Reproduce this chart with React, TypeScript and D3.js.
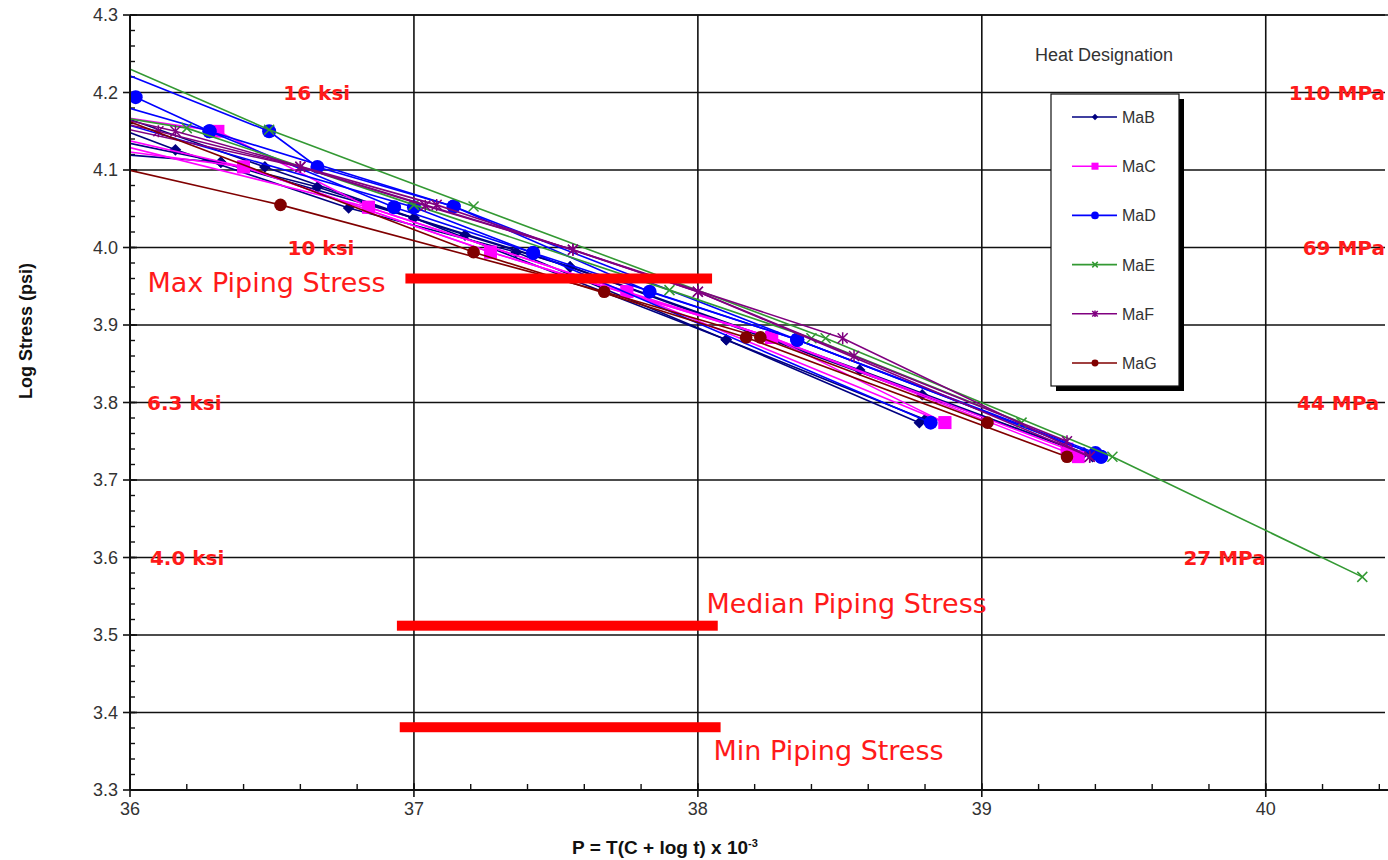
import React from "react";
import * as d3 from "d3";

// Larson-Miller data, [P x 10^-3, log stress] per test run (first point sits left of the axis)
const maB = [
  [[35.9, 4.162], [36.16, 4.126], [36.77, 4.051], [37.36, 3.994], [38.1, 3.881], [38.78, 3.774]],
  [[35.9, 4.122], [36.32, 4.11], [36.66, 4.078], [37.18, 4.016], [37.55, 3.975], [38.57, 3.842], [39.39, 3.73]],
  [[35.9, 4.178], [36.475, 4.104], [37.0, 4.038], [37.55, 3.975], [38.79, 3.81], [39.36, 3.735]],
  [[35.9, 4.142], [36.32, 4.11], [37.0, 4.038], [38.1, 3.881], [38.8, 3.778]],
];
const maC = [
  [[35.9, 4.172], [36.31, 4.15], [36.84, 4.052], [37.75, 3.943], [38.87, 3.774]],
  [[35.9, 4.146], [36.4, 4.104], [37.27, 3.994], [38.26, 3.884], [39.34, 3.73]],
  [[35.9, 4.138], [36.84, 4.052], [37.75, 3.943], [38.26, 3.884], [39.3, 3.74]],
  [[35.9, 4.128], [36.4, 4.104], [37.27, 3.994], [38.26, 3.884], [38.87, 3.774]],
];
const maD = [
  [[35.9, 4.21], [36.02, 4.194], [36.28, 4.15], [36.93, 4.052], [37.42, 3.993], [38.82, 3.774]],
  [[35.9, 4.236], [36.49, 4.15], [36.66, 4.104], [37.14, 4.053], [37.83, 3.943], [38.35, 3.881], [39.42, 3.73]],
  [[35.9, 4.168], [37.0, 4.052], [37.42, 3.993], [38.35, 3.881], [39.4, 3.735]],
  [[35.9, 4.19], [36.28, 4.15], [37.14, 4.053], [38.35, 3.881], [39.42, 3.73]],
];
const maE = [
  [[35.9, 4.246], [36.49, 4.152], [37.21, 4.053], [38.45, 3.883], [39.46, 3.73], [40.34, 3.575]],
  [[35.9, 4.172], [36.2, 4.154], [37.0, 4.055], [37.9, 3.945], [38.4, 3.883], [39.14, 3.774]],
];
const maF = [
  [[35.9, 4.166], [36.1, 4.15], [36.6, 4.104], [37.04, 4.054], [37.56, 3.997], [38.51, 3.883], [39.38, 3.73]],
  [[35.9, 4.172], [36.16, 4.15], [37.08, 4.055], [38.0, 3.943], [38.55, 3.86], [39.3, 3.75]],
  [[35.9, 4.16], [36.6, 4.104], [37.56, 3.997], [38.0, 3.943], [39.38, 3.73]],
];
const maG = [
  [[35.9, 4.108], [36.53, 4.055], [37.67, 3.943], [38.22, 3.884], [39.02, 3.774]],
  [[35.9, 4.176], [37.21, 3.994], [38.17, 3.884], [39.3, 3.73]],
];

const heats = [
  { name: "MaB", color: "#000080", marker: "diamond", runs: maB },
  { name: "MaC", color: "#ff00ff", marker: "square", runs: maC },
  { name: "MaD", color: "#0000ff", marker: "circle", runs: maD },
  { name: "MaE", color: "#339933", marker: "x", runs: maE },
  { name: "MaF", color: "#800080", marker: "star", runs: maF },
  { name: "MaG", color: "#800000", marker: "dot", runs: maG },
];

const xTicks = [36, 37, 38, 39, 40];
const yTicks = [3.3, 3.4, 3.5, 3.6, 3.7, 3.8, 3.9, 4.0, 4.1, 4.2, 4.3];

// stress annotations: [text, P, log stress]
const ksiLabels = [
  ["16 ksi", 36.54, 4.2],
  ["10 ksi", 36.555, 4.0],
  ["6.3 ksi", 36.06, 3.8],
  ["4.0 ksi", 36.07, 3.6],
];
const mpaLabels = [
  ["110 MPa", 40.42, 4.2],
  ["69 MPa", 40.42, 4.0],
  ["44 MPa", 40.4, 3.8],
  ["27 MPa", 40.0, 3.6],
];
// piping stress bands: [label, P start, P end, log stress]
const pipingBars = [
  ["Max Piping Stress", 36.97, 38.05, 3.96],
  ["Median Piping Stress", 36.94, 38.07, 3.512],
  ["Min Piping Stress", 36.95, 38.08, 3.381],
];
const pipingLabels = [
  ["Max Piping Stress", 36.9, 3.955, "end"],
  ["Median Piping Stress", 38.03, 3.541, "start"],
  ["Min Piping Stress", 38.055, 3.352, "start"],
];

const left = 130;
const right = 1385;
const top = 15;
const bottom = 790;

const x = d3.scaleLinear().domain([36, 40.42]).range([left, right]);
const y = d3.scaleLinear().domain([3.3, 4.3]).range([bottom, top]);

function Marker({ type, color, cx, cy, s = 1 }) {
  if (type === "circle" || type === "dot") {
    const r = (type === "circle" ? 7 : 6.3) * s;
    return <circle cx={cx} cy={cy} r={r} fill={color} />;
  }
  if (type === "square") {
    const h = 6.4 * s;
    return <rect x={cx - h} y={cy - h} width={2 * h} height={2 * h} fill={color} />;
  }
  if (type === "diamond") {
    const r = 5.8 * s;
    return <path d={`M${cx},${cy - r}L${cx + r},${cy}L${cx},${cy + r}L${cx - r},${cy}Z`} fill={color} />;
  }
  const r = 5 * s;
  let d = `M${cx - r},${cy - r}L${cx + r},${cy + r}M${cx - r},${cy + r}L${cx + r},${cy - r}`;
  if (type === "star") d += `M${cx},${cy - r * 1.2}L${cx},${cy + r * 1.2}`;
  return <path d={d} stroke={color} strokeWidth={1.5} fill="none" />;
}

export default function App() {
  const line = d3
    .line()
    .x((d) => x(d[0]))
    .y((d) => y(d[1]));

  const minorY = d3.range(3.3, 4.3001, 0.02);
  const minorX = d3.range(36, 40.42, 0.2);
  const legendRows = d3.scalePoint().domain(heats.map((h) => h.name)).range([117, 363]);

  return (
    <svg
      width={1388}
      height={860}
      style={{ position: "absolute", left: 0, top: 0, background: "#fff" }}
      fontFamily="Liberation Sans, Arial, sans-serif"
    >
      <defs>
        <clipPath id="plot">
          <rect x={left} y={top} width={right - left} height={bottom - top} />
        </clipPath>
      </defs>

      {/* grid */}
      {yTicks.slice(1).map((t) => (
        <line key={"gy" + t} x1={left} x2={right} y1={y(t)} y2={y(t)} stroke="#111" strokeWidth={1.6} />
      ))}
      {xTicks.slice(1).map((t) => (
        <line key={"gx" + t} x1={x(t)} x2={x(t)} y1={top} y2={bottom} stroke="#111" strokeWidth={1.6} />
      ))}

      {/* minor ticks */}
      {minorY.map((t, i) => (
        <line key={"my" + i} x1={left} x2={left + 5} y1={y(t)} y2={y(t)} stroke="#111" strokeWidth={1.4} />
      ))}
      {minorX.map((t, i) => (
        <line key={"mx" + i} x1={x(t)} x2={x(t)} y1={bottom} y2={bottom - 6} stroke="#111" strokeWidth={1.4} />
      ))}
      {yTicks.map((t) => (
        <line key={"ty" + t} x1={left - 7} x2={left + 7} y1={y(t)} y2={y(t)} stroke="#111" strokeWidth={1.6} />
      ))}
      {xTicks.map((t) => (
        <line key={"tx" + t} x1={x(t)} x2={x(t)} y1={bottom - 7} y2={bottom + 7} stroke="#111" strokeWidth={1.6} />
      ))}

      {/* annotations under the data */}
      <g fontFamily="DejaVu Sans, Verdana, sans-serif" fontWeight="bold" fontSize={20} fill="#ff1a1a">
        {ksiLabels.map(([t, p, s]) => (
          <text key={t} x={x(p)} y={y(s) + 7}>
            {t}
          </text>
        ))}
        {mpaLabels.map(([t, p, s]) => (
          <text key={t} x={x(p)} y={y(s) + 7} textAnchor="end">
            {t}
          </text>
        ))}
      </g>

      {/* series */}
      <g clipPath="url(#plot)">
        {heats.map((h) => (
          <g key={h.name}>
            {h.runs.map((run, i) => (
              <path key={i} d={line(run)} fill="none" stroke={h.color} strokeWidth={1.6} />
            ))}
            {h.runs.map((run, i) =>
              run.map((d, j) => (
                <Marker key={i + "-" + j} type={h.marker} color={h.color} cx={x(d[0])} cy={y(d[1])} />
              ))
            )}
          </g>
        ))}
      </g>

      {/* piping stress bars */}
      {pipingBars.map(([n, p0, p1, s]) => (
        <rect key={n} x={x(p0)} y={y(s) - 5} width={x(p1) - x(p0)} height={10} fill="#ff0000" />
      ))}
      <g fontFamily="DejaVu Sans, Tahoma, sans-serif" fontSize={27} fill="#ff1a1a">
        {pipingLabels.map(([t, p, s, a]) => (
          <text key={t} x={x(p)} y={y(s) + 10} textAnchor={a}>
            {t}
          </text>
        ))}
      </g>

      {/* axes */}
      <line x1={left} x2={left} y1={top} y2={bottom} stroke="#111" strokeWidth={2} />
      <line x1={left} x2={right + 3} y1={bottom} y2={bottom} stroke="#111" strokeWidth={2.2} />
      <line x1={left} x2={right + 3} y1={top} y2={top} stroke="#111" strokeWidth={1.6} />

      {yTicks.map((t) => (
        <text key={"ly" + t} x={left - 12} y={y(t) + 6} textAnchor="end" fontSize={18} fill="#333">
          {t.toFixed(1)}
        </text>
      ))}
      {xTicks.map((t) => (
        <text key={"lx" + t} x={x(t)} y={bottom + 25} textAnchor="middle" fontSize={18} fill="#333">
          {t}
        </text>
      ))}

      <text
        transform={`translate(32, 331) rotate(-90)`}
        textAnchor="middle"
        fontSize={18}
        fontWeight="bold"
        fill="#111"
      >
        Log Stress (psi)
      </text>
      <text x={665} y={854} textAnchor="middle" fontSize={19} fontWeight="bold" fill="#111">
        P = T(C + log t) x 10
        <tspan dy={-7} fontSize={11}>
          -3
        </tspan>
      </text>

      {/* legend */}
      <text x={1035} y={61} fontSize={18} fill="#333">
        Heat Designation
      </text>
      <rect x={1056} y={99} width={128} height={292} fill="#000" />
      <rect x={1051} y={94} width={128} height={292} fill="#fff" stroke="#111" strokeWidth={1.2} />
      {heats.map((h) => {
        const ry = legendRows(h.name);
        return (
          <g key={h.name}>
            <line x1={1072} x2={1117} y1={ry} y2={ry} stroke={h.color} strokeWidth={1.6} />
            <Marker type={h.marker} color={h.color} cx={1095} cy={ry} s={0.55} />
            <text x={1122} y={ry + 6} fontSize={16} fill="#333">
              {h.name}
            </text>
          </g>
        );
      })}
    </svg>
  );
}
